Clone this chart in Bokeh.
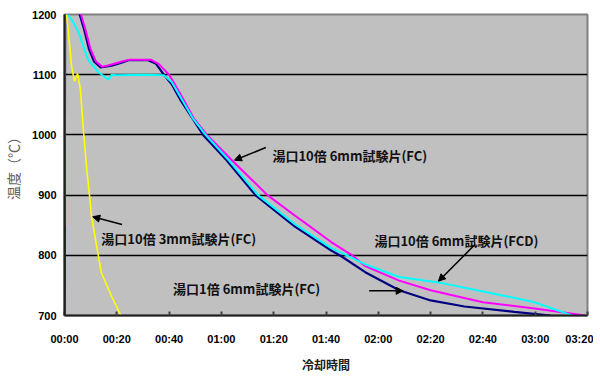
from bokeh.plotting import figure
from bokeh.models import Range1d, FixedTicker, Arrow, NormalHead, ColumnDataSource
from bokeh.core.properties import value
from bokeh.embed import file_html
from bokeh.resources import INLINE

# ---- data (cooling time in minutes, temperature in degC) ----
navy_t = [0, 0.3, 5.8, 7.5, 9.4, 11.3, 13.8, 18, 21.8, 24.5, 32, 35, 38, 41, 44.5, 49, 53, 62, 73, 88, 102, 106, 115, 128, 140, 153, 172, 186]
navy_temp = [690, 1300, 1200, 1175, 1142, 1122, 1112, 1115, 1120, 1124, 1124, 1118, 1100, 1084, 1057, 1027, 1000, 958, 900, 848, 808, 798, 772, 742, 725, 715, 706, 700]

magenta_t = [0, 0.3, 6.3, 8, 10, 12, 14.5, 18, 22, 25, 33, 36, 40, 41.5, 45.5, 49.5, 54.5, 64, 77.6, 90, 102, 110, 115, 128, 140, 160, 179, 191, 199]
magenta_temp = [850, 1300, 1200, 1175, 1142, 1122, 1113, 1117, 1122, 1125, 1125, 1118, 1100, 1089, 1059, 1027, 1000, 958, 900, 860, 822, 800, 782, 758, 742, 722, 712, 705, 700]

cyan_t = [0.5, 1.5, 2.7, 5.4, 9, 13, 16, 17, 18, 20, 30, 38, 41, 45, 49, 54, 63, 74, 88, 102, 108, 115, 128, 143, 160, 179, 189, 194]
cyan_temp = [1200, 1198, 1192, 1170, 1125, 1104, 1094, 1092, 1100, 1099, 1100, 1099, 1088, 1058, 1028, 1000, 957, 900, 852, 812, 800, 785, 764, 755, 740, 723, 708, 700]

yellow_t = [0.8, 1.5, 2.7, 3.8, 5, 6.1, 7.3, 8.4, 9.6, 10.3, 13, 14.1, 18, 21, 21.5]
yellow_temp = [1200, 1170, 1114, 1089, 1102, 1075, 1004, 948, 898, 865, 798, 771, 732, 705, 700]

x_ticks = [0, 20, 40, 60, 80, 100, 120, 140, 160, 180, 200]
x_tick_labels = ["00:00", "00:20", "00:40", "01:00", "01:20", "01:40", "02:00", "02:20", "02:40", "03:00", "03:20"]
y_ticks = [700, 800, 900, 1000, 1100, 1200]

ann_text = ["湯口10倍 6mm試験片(FC)", "湯口10倍 3mm試験片(FC)", "湯口10倍 6mm試験片(FCD)", "湯口1倍 6mm試験片(FC)"]
ann_x = [79.5, 14.1, 118.5, 41.5]
ann_y = [966, 828, 824, 745]
# arrows: tail -> head
arr_x0 = [77, 22, 157, 116.5]
arr_y0 = [979, 851, 818, 741]
arr_x1 = [65, 10.8, 143, 129.5]
arr_y1 = [958, 864, 757, 741]

p = figure(frame_width=523, frame_height=301, output_backend="svg", toolbar_location=None,
           x_range=Range1d(0, 200), y_range=Range1d(700, 1200),
           min_border_left=55, min_border_top=14, min_border_right=6, min_border_bottom=46)
p.background_fill_color = "#c0c0c0"
p.border_fill_color = "white"
p.outline_line_color = "#808080"
p.outline_line_width = 2

p.xgrid.visible = False
p.ygrid.ticker = FixedTicker(ticks=[800, 900, 1000, 1100])
p.ygrid.grid_line_color = "black"
p.ygrid.grid_line_width = 1.3

p.xaxis.ticker = FixedTicker(ticks=x_ticks)
p.xaxis.major_label_overrides = dict(zip(x_ticks, x_tick_labels))
p.yaxis.ticker = FixedTicker(ticks=y_ticks)

for ax in (p.xaxis[0], p.yaxis[0]):
    ax.axis_line_color = "#202020"
    ax.axis_line_width = 2
    ax.minor_tick_line_color = None
    ax.major_label_text_font = "Liberation Sans"
    ax.major_label_text_font_style = "bold"
    ax.major_label_text_font_size = "11px"
    ax.major_label_text_color = "black"
    ax.axis_label_text_font = "Noto Sans CJK JP"
    ax.axis_label_text_font_style = "bold"
    ax.axis_label_text_color = "#202020"

p.xaxis.major_tick_in = 4
p.xaxis.major_tick_out = 0
p.xaxis.major_tick_line_color = "#404040"
p.xaxis.major_tick_line_width = 2
p.xaxis.major_label_standoff = 17
p.yaxis.major_tick_in = 0
p.yaxis.major_tick_out = 0
p.yaxis.major_label_standoff = 8

p.xaxis.axis_label = "冷却時間"
p.xaxis.axis_label_text_font_size = "12px"
p.xaxis.axis_label_standoff = 8
p.yaxis.axis_label = "温度（℃）"
p.yaxis.axis_label_text_font_size = "14px"
p.yaxis.axis_label_text_font_style = "normal"
p.yaxis.axis_label_text_color = "#606060"
p.yaxis.axis_label_standoff = 6

p.line(navy_t, navy_temp, line_color="#000080", line_width=2.2)
p.line(magenta_t, magenta_temp, line_color="#ff00ff", line_width=2)
p.line(cyan_t, cyan_temp, line_color="#00ffff", line_width=2)
p.line(yellow_t, yellow_temp, line_color="#ffff00", line_width=1.6)

src = ColumnDataSource(dict(x=ann_x, y=ann_y, t=ann_text))
p.text(x="x", y="y", text="t", source=src, text_font=value("Noto Sans CJK JP"),
       text_font_size="13px", text_font_style="bold", text_align="left",
       text_baseline="middle", text_color="#101010")

for i in range(len(arr_x0)):
    p.add_layout(Arrow(end=NormalHead(size=7, fill_color="black", line_color="black"),
                       x_start=arr_x0[i], y_start=arr_y0[i], x_end=arr_x1[i], y_end=arr_y1[i],
                       line_color="black", line_width=1.5))

open("out.html", "w").write(file_html(p, INLINE))
